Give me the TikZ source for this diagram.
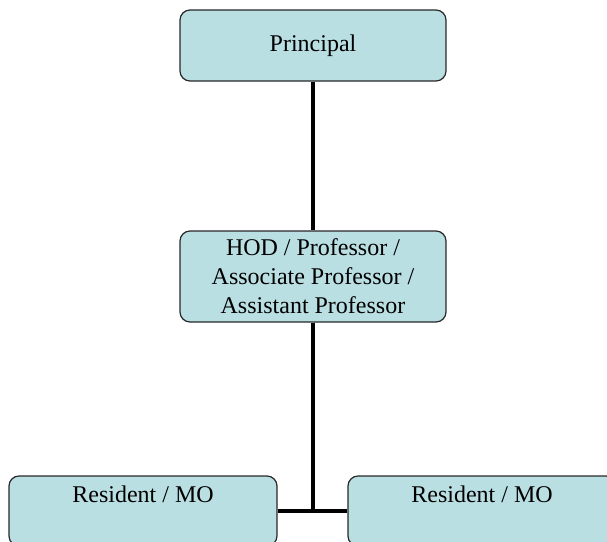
\documentclass[tikz,border=0pt]{standalone}
\usepackage{fontspec}
\setmainfont{Liberation Serif}
\definecolor{boxfill}{RGB}{186,223,227}
\definecolor{boxline}{RGB}{40,40,40}
\begin{document}
\begin{tikzpicture}[x=1pt,y=-1pt,
  orgbox/.style={draw=boxline, line width=1.2pt, fill=boxfill, rounded corners=10pt,
    inner sep=0pt, align=center, font=\fontsize{24}{29}\selectfont},
  conn/.style={draw=black, line width=4pt}]
\useasboundingbox (0,0) rectangle (607,541);
\node[orgbox, minimum width=266pt, minimum height=71pt] (p) at (313,45.5) {Principal};
\node[orgbox, minimum width=266pt, minimum height=91pt] (h) at (313,276.5) {HOD / Professor /\\Associate Professor /\\Assistant Professor};
\node[orgbox, minimum width=268pt, minimum height=70pt] (l) at (143,511) {\strut Resident / MO\\\strut};
\node[orgbox, minimum width=268pt, minimum height=70pt] (r) at (482,511) {\strut Resident / MO\\\strut};
\coordinate (j) at (h.south |- l.east);
\draw[conn] (p.south) -- (h.north);
\draw[conn] (h.south) -- (j);
\draw[conn] (l.east) -- (r.west);
\end{tikzpicture}
\end{document}
